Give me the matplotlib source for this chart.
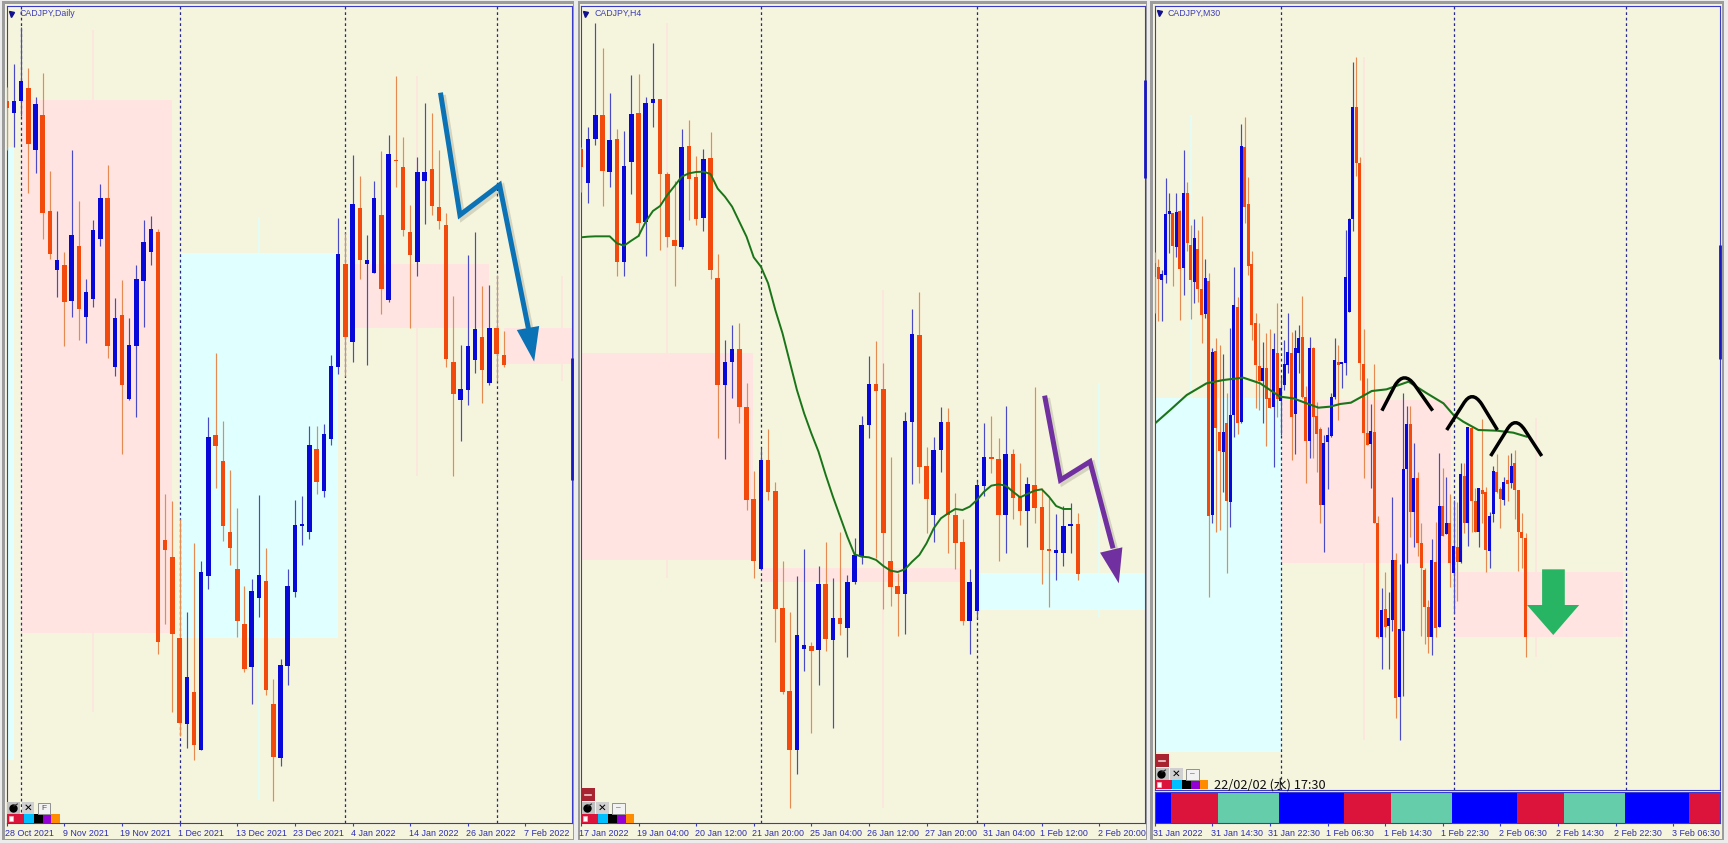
"""
Three CADJPY candlestick windows (Daily, H4, M30) side by side, trading platform look.
Price levels are chart units read from the picture, they grow downwards.
"""

import numpy as np
import matplotlib
matplotlib.use("Agg")
import matplotlib.pyplot as plt
import matplotlib.patheffects as pe
from matplotlib.patches import PathPatch, Rectangle
from matplotlib.path import Path
from matplotlib.transforms import ScaledTranslation

WIDTH, HEIGHT = 1728, 843

BEIGE = "#f5f4dc"
PINK = "#ffe4e1"
CYAN = "#e0ffff"
BODY_BLUE = "#0808d8"
BODY_ORANGE = "#f24a0c"
WICK_BLUE = "#4a4ac4"
WICK_ORANGE = "#e58a50"
FRAME_BLUE = "#3a3ac8"
TEXT_BLUE = "#2c2cb4"
MA_GREEN = "#1a751a"

# Daily window
daily_colors = "OBBOBOOBOB" "OBBBOBOBBB" "BOOOOBOBBO" "OOOOBBOOBB" "BBBOBBBOBO" "BBOBOOOBBO" "OOOBBBOBOO"
daily_high = [262, 192, 82, 205, 290, 220, 513, 634, 757, 449, 604, 838, 661, 553, 496, 893, 840, 953, 795, 661,
              648, 688, 1482, 1503, 1556, 1836, 1630, 1684, 1250, 1060, 1263, 1410, 1525, 1758, 1738, 1485, 1645,
              2038, 1976, 1706, 1500, 1488, 1278, 1278, 1272, 1066, 654, 700, 465, 528, 705, 543, 453, 405, 229,
              410, 616, 470, 310, 340, 451, 640, 888, 1034, 765, 695, 858, 855, 826, 993]
daily_top = [303, 303, 243, 265, 313, 346, 634, 780, 795, 705, 737, 875, 691, 594, 594, 953, 945, 1034, 837, 726,
             688, 697, 1620, 1670, 1914, 2032, 2076, 1717, 1312, 1304, 1382, 1595, 1706, 1871, 1774, 1725, 1744,
             2113, 1995, 1758, 1574, 1571, 1334, 1347, 1302, 1099, 762, 792, 613, 624, 780, 594, 645, 462, 481,
             500, 697, 516, 516, 507, 621, 675, 1085, 1166, 1037, 988, 1010, 985, 985, 1064]
daily_bottom = [325, 340, 302, 432, 450, 638, 762, 810, 906, 904, 928, 950, 898, 717, 1038, 1100, 1155, 1196, 1038,
                842, 755, 1926, 1649, 1902, 2170, 2172, 2235, 2250, 1727, 1338, 1578, 1643, 1864, 2008, 2000, 1794,
                2070, 2272, 2275, 1999, 1776, 1578, 1597, 1446, 1473, 1316, 1100, 1012, 1025, 780, 791, 818, 866,
                900, 484, 690, 764, 785, 543, 618, 664, 1076, 1182, 1200, 1171, 1079, 1109, 1150, 1063, 1095]
daily_low = [450, 442, 348, 578, 520, 716, 776, 890, 1038, 952, 1020, 1028, 922, 737, 1074, 1128, 1363, 1200, 1252,
             982, 794, 1962, 1872, 2135, 2208, 2243, 2280, 2250, 1768, 1463, 1622, 1694, 1910, 2015, 2111, 1850,
             2086, 2402, 2297, 2056, 1790, 1635, 1616, 1482, 1490, 1336, 1122, 1128, 1085, 836, 1096, 818, 942,
             905, 561, 707, 983, 829, 672, 645, 686, 1100, 1427, 1322, 1214, 1120, 1210, 1155, 1142, 1102]
daily_zone_start = [0, 2, 24, 48, 69]
daily_zone_end = [1, 22.9, 46, 67, 78.4]
daily_zone_top = [440, 300, 760, 792, 985]
daily_zone_bottom = [2280, 1900, 1914, 985, 1092]
daily_zone_colors = [CYAN, PINK, CYAN, PINK, PINK]
daily_zone_wick_bar = [12, 35, 57, 77]
daily_zone_wick_high = [90, 650, 228, 828]
daily_zone_wick_low = [2135, 2400, 1427, 1142]
daily_zone_wick_colors = [PINK, CYAN, PINK, PINK]
daily_sessions = [2, 24, 47, 68]
daily_labels = ["28 Oct 2021", "9 Nov 2021", "19 Nov 2021", "1 Dec 2021", "13 Dec 2021",
                "23 Dec 2021", "4 Jan 2022", "14 Jan 2022", "26 Jan 2022", "7 Feb 2022"]
daily_edge = [1074, 1440]
daily_arrow_bar = [60.2, 62.9, 68.4, 72.4]
daily_arrow_level = [278, 645, 555, 985]
daily_head_bar = [70.8, 73.9, 73.2]
daily_head_level = [990, 978, 1085]

# H4 window
h4_colors = "OBBOBOBBOB" "BOOOBOOBOO" "BBOOOBOOOO" "BBOBOBOBBB" "BOOOOBBOOB" "BOOOBBBOOB" "OOBOOOBBBO"
h4_high = [440, 380, 68, 145, 278, 387, 392, 226, 222, 290, 130, 297, 515, 543, 388, 360, 467, 448, 397, 762, 1020,
           975, 969, 1148, 1412, 1345, 1288, 1447, 1684, 1835, 1728, 1647, 1927, 1698, 1625, 1735, 1595, 1725, 1615,
           1247, 1068, 1023, 1088, 1372, 1720, 1236, 928, 875, 1340, 1310, 1220, 1223, 1480, 1557, 1707, 1442, 1268,
           1248, 1315, 1217, 1347, 1390, 1430, 1160, 1465, 1495, 1543, 1518, 1510, 1540]
h4_top = [447, 416, 346, 346, 419, 416, 497, 343, 340, 308, 297, 297, 521, 721, 440, 437, 531, 477, 475, 835, 1086,
          1048, 1048, 1220, 1498, 1380, 1380, 1474, 1825, 2074, 1904, 1936, 1938, 1752, 1752, 1855, 1855, 1747, 1665,
          1274, 1153, 1153, 1168, 1684, 1757, 1263, 1002, 1005, 1398, 1350, 1266, 1266, 1545, 1627, 1747, 1455, 1370,
          1372, 1377, 1361, 1361, 1488, 1452, 1455, 1522, 1647, 1651, 1577, 1572, 1572]
h4_bottom = [500, 550, 418, 512, 515, 785, 785, 486, 668, 665, 310, 523, 711, 739, 740, 536, 658, 655, 809, 1155,
             1155, 1087, 1222, 1500, 1684, 1706, 1475, 1827, 2076, 2250, 2250, 1946, 1953, 1951, 1918, 1921, 1872,
             1883, 1747, 1667, 1276, 1173, 1600, 1760, 1782, 1781, 1265, 1400, 1498, 1544, 1350, 1545, 1630, 1862,
             1862, 1832, 1457, 1378, 1545, 1545, 1493, 1533, 1533, 1525, 1650, 1654, 1658, 1660, 1578, 1722]
h4_low = [575, 610, 434, 617, 561, 829, 829, 583, 708, 767, 380, 750, 740, 858, 747, 660, 675, 693, 836, 1313, 1377,
          1193, 1270, 1530, 1735, 1706, 1500, 1927, 2082, 2423, 2323, 2013, 2199, 2055, 1953, 2183, 1905, 1970, 1751,
          1692, 1314, 1675, 1827, 1817, 1908, 1902, 1452, 1450, 1600, 1625, 1415, 1660, 1707, 1875, 1962, 1854, 1488,
          1418, 1682, 1660, 1557, 1575, 1641, 1568, 1751, 1822, 1741, 1698, 1660, 1741]
h4_ma = [712, 710, 709, 709, 709, 730, 737, 722, 708, 665, 633, 618, 585, 558, 530, 520, 516, 515, 522, 566, 590,
         620, 665, 710, 772, 800, 850, 930, 1000, 1085, 1170, 1240, 1300, 1355, 1425, 1490, 1550, 1610, 1663, 1670,
         1672, 1680, 1698, 1712, 1716, 1708, 1685, 1665, 1630, 1585, 1555, 1540, 1527, 1530, 1520, 1500, 1475, 1457,
         1453, 1457, 1475, 1492, 1482, 1472, 1468, 1490, 1518, 1527, 1527]
h4_zone_start = [0, 25, 55]
h4_zone_end = [23.9, 53, 78.3]
h4_zone_top = [1060, 1705, 1720]
h4_zone_bottom = [1680, 1747, 1830]
h4_zone_colors = [PINK, PINK, CYAN]
h4_zone_wick_bar = [12, 42, 72]
h4_zone_wick_high = [68, 870, 1150]
h4_zone_wick_low = [1735, 2423, 1850]
h4_zone_wick_colors = [PINK, PINK, CYAN]
h4_sessions = [25, 55]
h4_labels = ["17 Jan 2022", "19 Jan 04:00", "20 Jan 12:00", "21 Jan 20:00", "25 Jan 04:00",
             "26 Jan 12:00", "27 Jan 20:00", "31 Jan 04:00", "1 Feb 12:00", "2 Feb 20:00"]
h4_edge = [240, 535]
h4_arrow_bar = [64.4, 66.6, 70.7, 73.9]
h4_arrow_level = [1187, 1440, 1385, 1645]
h4_head_bar = [72.1, 75.2, 74.7]
h4_head_level = [1658, 1642, 1750]

# M30 window
m30_colors = ("OOBBBOBOBO" "OBOOBOBOOB" "OBBOBOOOOO" "BOOBOBBBOB" "BOOBOOOBBB"
              "BOBBBBOOOO" "BOOBOBBOBB" "BOBOOOOBOB" "OBOBOBOBOO" "BOOBBOOBOB" "OOOO")
m30_high = [757, 778, 810, 535, 578, 640, 578, 630, 449, 545, 675, 658, 690, 648, 778, 820, 1045, 1013, 1035, 1062,
            1180, 985, 800, 890, 372, 350, 530, 752, 940, 970, 1025, 1000, 988, 1000, 908, 1130, 1020, 940, 995, 990,
            975, 888, 1158, 1010, 1040, 1205, 1282, 1305, 1282, 1180, 1015, 1035, 1085, 690, 655, 185, 170, 472, 988,
            1135, 1212, 1093, 1548, 1765, 1715, 1775, 1490, 1660, 1693, 1178, 1218, 1218, 1330, 1417, 1568, 1705,
            1800, 1618, 1567, 1360, 1405, 1430, 1483, 1500, 1505, 1390, 1388, 1282, 1280, 1465, 1465, 1258, 1460,
            1535, 1398, 1363, 1460, 1430, 1365, 1358, 1350, 1470, 1540, 1598]
m30_top = [790, 802, 822, 642, 632, 640, 635, 632, 580, 580, 735, 715, 748, 868, 835, 843, 1055, 1053, 1295, 1297,
           1268, 1245, 915, 920, 437, 440, 612, 792, 968, 1098, 1105, 1105, 1195, 1048, 1060, 1163, 1092, 1055, 1058,
           1045, 1015, 1012, 1192, 1045, 1045, 1248, 1288, 1328, 1305, 1190, 1080, 1087, 1085, 830, 658, 322, 322,
           488, 1093, 1298, 1293, 1295, 1570, 1830, 1828, 1855, 1680, 1680, 1888, 1408, 1272, 1272, 1433, 1433, 1628,
           1710, 1820, 1680, 1685, 1517, 1518, 1570, 1570, 1638, 1640, 1423, 1428, 1282, 1285, 1502, 1465, 1470, 1477,
           1547, 1413, 1415, 1468, 1447, 1440, 1397, 1390, 1470, 1597, 1615]
m30_bottom = [830, 836, 840, 825, 642, 738, 740, 808, 803, 730, 840, 845, 868, 945, 942, 1547, 1545, 1285, 1353,
              1357, 1503, 1505, 1245, 1268, 1265, 620, 798, 975, 1095, 1142, 1142, 1198, 1223, 1220, 1198, 1202, 1155,
              1095, 1250, 1242, 1058, 1190, 1322, 1322, 1250, 1302, 1515, 1515, 1327, 1307, 1192, 1096, 1092, 1090,
              935, 658, 490, 1090, 1300, 1335, 1333, 1570, 1910, 1910, 1882, 1878, 1860, 2095, 2090, 1892, 1408, 1535,
              1535, 1628, 1705, 1820, 1912, 1912, 1885, 1880, 1607, 1602, 1690, 1720, 1687, 1687, 1568, 1568, 1502,
              1595, 1595, 1482, 1650, 1653, 1542, 1477, 1497, 1500, 1452, 1448, 1470, 1595, 1615, 1912]
m30_low = [938, 962, 963, 850, 758, 857, 772, 960, 885, 752, 958, 908, 905, 1028, 955, 1792, 1570, 1595, 1590, 1475,
           1718, 1582, 1310, 1303, 1270, 670, 825, 1020, 1225, 1230, 1270, 1338, 1225, 1400, 1250, 1305, 1170, 1120,
           1380, 1362, 1120, 1195, 1450, 1375, 1375, 1415, 1568, 1657, 1467, 1310, 1198, 1260, 1165, 1125, 935, 692,
           528, 1140, 1435, 1335, 1465, 1570, 1915, 2007, 1910, 2008, 1892, 2153, 2220, 2087, 1688, 1610, 1642, 1668,
           1908, 1932, 1958, 1965, 1910, 1880, 1607, 1602, 1762, 1838, 1802, 1690, 1600, 1638, 1597, 1595, 1642, 1570,
           1717, 1705, 1565, 1480, 1585, 1515, 1502, 1465, 1558, 1712, 1705, 1970]
m30_ma_bar = [0.1, 4.3, 8.9, 14.4, 19.1, 24.6, 29.3, 34.8, 38.5, 42.2, 45.5, 48.7, 51.5, 54.5, 57, 60.3, 64.4, 70.5,
              75.6, 80.2, 83, 85.7, 89.9, 95, 99.6, 103.3]
m30_ma = [1270, 1230, 1185, 1150, 1140, 1133, 1150, 1190, 1195, 1210, 1223, 1220, 1212, 1208, 1193, 1173, 1168, 1145,
          1180, 1210, 1245, 1265, 1290, 1292, 1298, 1310]
m30_zone_start = [0, 35.1, 83.2]
m30_zone_end = [35, 82.4, 130]
m30_zone_top = [1195, 1200, 1717]
m30_zone_bottom = [2255, 1690, 1910]
m30_zone_colors = [CYAN, PINK, PINK]
m30_zone_wick_bar = [10, 58, 106]
m30_zone_wick_high = [345, 170, 1255]
m30_zone_wick_low = [1195, 2220, 1970]
m30_zone_wick_colors = [CYAN, PINK, PINK]
m30_sessions = [35, 83, 131]
m30_labels = ["31 Jan 2022", "31 Jan 14:30", "31 Jan 22:30", "1 Feb 06:30", "1 Feb 14:30",
              "1 Feb 22:30", "2 Feb 06:30", "2 Feb 14:30", "2 Feb 22:30", "3 Feb 06:30"]
m30_edge = [735, 1077]
m30_stripe_edges = [0, 4.5, 17.5, 34.6, 52.6, 65.5, 82.5, 100.6, 113.6, 130.5, 148.5, 156.9]
m30_stripe_colors = ["#0000ff", "#dc143c", "#66cdaa", "#0000ff", "#dc143c", "#66cdaa",
                     "#0000ff", "#dc143c", "#66cdaa", "#0000ff", "#dc143c"]
# Hand drawn humps: start, left shoulder, apex control, right shoulder, end
hump1_bar = [63.1, 66.8, 69.3, 72.2, 77.2]
hump1_level = [1232, 1155, 1112, 1155, 1232]
hump2_bar = [81.1, 85.7, 88.1, 90.8, 95.2]
hump2_level = [1290, 1212, 1168, 1212, 1290]
hump3_bar = [93.3, 97.8, 100.1, 102.8, 107.5]
hump3_level = [1368, 1290, 1246, 1290, 1368]
green_arrow_bar = [107.6, 113.9, 113.9, 117.9, 110.7, 103.4, 107.6]
green_arrow_level = [1708, 1708, 1815, 1815, 1905, 1815, 1815]


def make_axes(fig, left, top, right, bottom):
    """Axes from pixel edges of the picture."""
    return fig.add_axes([left / WIDTH, 1 - bottom / HEIGHT, (right - left) / WIDTH, (bottom - top) / HEIGHT])


def style_axes(ax):
    ax.set_facecolor(BEIGE)
    for spine in ax.spines.values():
        spine.set_color(FRAME_BLUE)
        spine.set_linewidth(0.8)
    ax.set_yticks([])


def draw_zones(ax, start, end, top, bottom, colors, wick_bar, wick_high, wick_low, wick_colors):
    # Higher timeframe candle drawn behind the chart
    ax.vlines(wick_bar, wick_high, wick_low, colors=wick_colors, linewidth=1.1, zorder=1)
    ax.bar(start, np.array(bottom) - np.array(top), bottom=top, width=np.array(end) - np.array(start),
           align="edge", color=colors, linewidth=0, zorder=1)


def draw_candles(ax, colors, high, top, bottom, low, body_width, wick_width):
    bars = np.arange(len(high))
    is_up = np.array([c == "B" for c in colors])
    wick_colors = np.where(is_up, WICK_BLUE, WICK_ORANGE)
    body_colors = np.where(is_up, BODY_BLUE, BODY_ORANGE)
    ax.vlines(bars, high, low, colors=wick_colors, linewidth=wick_width, zorder=3)
    ax.bar(bars, np.array(bottom) - np.array(top), bottom=top, width=body_width,
           color=body_colors, linewidth=0, zorder=4)


def draw_sessions(ax, bars):
    ax.vlines(bars, *ax.get_ylim(), colors="#28288c", linewidth=0.9,
              linestyles=(0, (2.2, 2.2)), zorder=2)


def set_time_axis(fig, ax, step, labels):
    ax.set_xticks(np.arange(len(labels)) * step)
    ax.set_xticklabels(labels, ha="left", fontsize=6.4, color=TEXT_BLUE, family="Liberation Sans")
    ax.tick_params(axis="x", length=2.5, width=0.8, color=FRAME_BLUE, pad=1.5)
    # Labels start a touch left of their tick
    shift = ScaledTranslation(-1.5 / 100, 0, fig.dpi_scale_trans)
    for label in ax.get_xticklabels():
        label.set_transform(label.get_transform() + shift)


def draw_arrow(ax, bars, levels, head_bars, head_levels, color):
    shadow = [pe.SimpleLineShadow(offset=(1.8, -1.8), alpha=0.13, linewidth=4.2), pe.Normal()]
    ax.plot(bars, levels, color=color, linewidth=3.6, solid_joinstyle="miter",
            solid_capstyle="butt", zorder=6, path_effects=shadow)
    ax.fill(head_bars, head_levels, color=color, linewidth=0, zorder=6)


def draw_hump(ax, bars, levels):
    codes = [Path.MOVETO, Path.LINETO, Path.CURVE3, Path.CURVE3, Path.LINETO]
    path = Path(np.column_stack([bars, levels]), codes)
    ax.add_patch(PathPatch(path, facecolor="none", edgecolor="black", linewidth=2.5,
                           capstyle="butt", zorder=6))


def draw_edge_candle(ax, levels):
    ax.vlines(ax.get_xlim()[1], levels[0], levels[1], colors="#1818c0", linewidth=2.0,
              clip_on=False, zorder=7)


def draw_title(ax, text):
    ax.text(0.0235, 0.9905, text, transform=ax.transAxes, fontsize=6.3, color="#3c3cc0",
            family="Liberation Sans", va="center", ha="left", zorder=8)
    ax.plot([0.0075], [0.9905], marker="v", markersize=3.6, color="#101090",
            transform=ax.transAxes, zorder=8, clip_on=False)


def draw_widgets(chrome, left, row_top, button_text, with_red):
    """Small tool buttons and colour swatches at the lower left of a window."""
    swatches = ["#dc143c", "#dc143c", "#00bfff", "#000000", "#9400d3", "#ff8c00"]
    widths = [8.7, 8.7, 9.2, 9.2, 8.7, 8.7]
    x = left
    for color, w in zip(swatches, widths):
        chrome.add_patch(Rectangle((x, row_top + 12), w, 9, color=color, linewidth=0))
        x += w
    chrome.add_patch(Rectangle((left + 1.8, row_top + 14), 4.5, 4.5, facecolor="white",
                               edgecolor="#ffc0c0", linewidth=0.4))
    chrome.add_patch(Rectangle((left + 0.5, row_top), 13, 11.5, color="#c0c0c0", linewidth=0))
    chrome.plot([left + 6], [row_top + 6.3], marker="o", markersize=5, color="black")
    chrome.plot([left + 7, left + 10.5], [row_top + 4, row_top + 2], color="#303030", linewidth=0.8)
    chrome.add_patch(Rectangle((left + 15, row_top), 12.5, 11.5, color="#d0d0d0", linewidth=0))
    chrome.text(left + 21.3, row_top + 5.8, "\u2715", fontsize=7.5, color="black", ha="center",
                va="center", family="DejaVu Sans", fontweight="bold")
    chrome.add_patch(Rectangle((left + 31, row_top + 0.5), 12.5, 11, facecolor="#f2f2f2",
                               edgecolor="#909090", linewidth=0.7))
    chrome.text(left + 37.2, row_top + 6, button_text, fontsize=6, color="#505050", ha="center",
                va="center", family="Liberation Sans")
    if with_red:
        chrome.add_patch(Rectangle((left, row_top - 14), 13.5, 13, color="#a82430", linewidth=0))
        chrome.plot([left + 3.5, left + 10], [row_top - 7.5, row_top - 7.5], color="#f0d0d0", linewidth=1.2)


def main():
    fig = plt.figure(figsize=(WIDTH / 100, HEIGHT / 100), dpi=100, facecolor="#ececec")

    # Window chrome behind the charts
    back = fig.add_axes([0, 0, 1, 1], zorder=-1)
    back.set_xlim(0, WIDTH)
    back.set_ylim(HEIGHT, 0)
    back.axis("off")
    for left, right in [(2, 574), (577.5, 1147), (1150, 1723.5)]:
        back.add_patch(Rectangle((left, 1), right - left, 839, color="#9c9c9c", linewidth=0))
        back.add_patch(Rectangle((left + 2.5, 4), right - left - 4, 834.5, color=BEIGE, linewidth=0))

    # Daily
    ax = make_axes(fig, 6.7, 6, 571.6, 823.3)
    style_axes(ax)
    ax.set_xlim(0, 78.4)
    ax.set_ylim(2470, 18)
    draw_zones(ax, daily_zone_start, daily_zone_end, daily_zone_top, daily_zone_bottom, daily_zone_colors,
               daily_zone_wick_bar, daily_zone_wick_high, daily_zone_wick_low, daily_zone_wick_colors)
    draw_sessions(ax, daily_sessions)
    draw_candles(ax, daily_colors, daily_high, daily_top, daily_bottom, daily_low, 0.62, 0.85)
    draw_arrow(ax, daily_arrow_bar, daily_arrow_level, daily_head_bar, daily_head_level, "#0b72b5")
    draw_edge_candle(ax, daily_edge)
    set_time_axis(fig, ax, 8, daily_labels)
    draw_title(ax, "CADJPY,Daily")

    # H4
    ax = make_axes(fig, 580.9, 6, 1144.7, 823.3)
    style_axes(ax)
    ax.set_xlim(0, 78.3)
    ax.set_ylim(2470, 18)
    draw_zones(ax, h4_zone_start, h4_zone_end, h4_zone_top, h4_zone_bottom, h4_zone_colors,
               h4_zone_wick_bar, h4_zone_wick_high, h4_zone_wick_low, h4_zone_wick_colors)
    draw_sessions(ax, h4_sessions)
    draw_candles(ax, h4_colors, h4_high, h4_top, h4_bottom, h4_low, 0.62, 0.85)
    ax.plot(np.arange(len(h4_ma)), h4_ma, color=MA_GREEN, linewidth=1.4, zorder=5)
    draw_arrow(ax, h4_arrow_bar, h4_arrow_level, h4_head_bar, h4_head_level, "#7030a0")
    draw_edge_candle(ax, h4_edge)
    set_time_axis(fig, ax, 8, h4_labels)
    draw_title(ax, "CADJPY,H4")

    # M30 with the colour stripe below it
    ax = make_axes(fig, 1154.7, 6, 1719.6, 790)
    style_axes(ax)
    ax.set_xlim(0, 156.9)
    ax.set_ylim(2370, 18)
    draw_zones(ax, m30_zone_start, m30_zone_end, m30_zone_top, m30_zone_bottom, m30_zone_colors,
               m30_zone_wick_bar, m30_zone_wick_high, m30_zone_wick_low, m30_zone_wick_colors)
    draw_sessions(ax, m30_sessions)
    draw_candles(ax, m30_colors, m30_high, m30_top, m30_bottom, m30_low, 0.85, 0.85)
    ax.plot(m30_ma_bar, m30_ma, color=MA_GREEN, linewidth=1.5, zorder=5)
    for hump_bar, hump_level in [(hump1_bar, hump1_level), (hump2_bar, hump2_level), (hump3_bar, hump3_level)]:
        draw_hump(ax, hump_bar, hump_level)
    ax.fill(green_arrow_bar, green_arrow_level, color="#27b463", linewidth=0, zorder=6)
    draw_edge_candle(ax, m30_edge)
    ax.set_xticks([])
    draw_title(ax, "CADJPY,M30")

    stripe = make_axes(fig, 1154.7, 791.5, 1719.6, 823.3)
    style_axes(stripe)
    stripe.set_xlim(0, 156.9)
    stripe.set_ylim(1, 0)
    stripe.bar(m30_stripe_edges[:-1], 1, width=np.diff(m30_stripe_edges), align="edge",
               color=m30_stripe_colors, linewidth=0)
    set_time_axis(fig, stripe, 16, m30_labels)

    # Buttons and swatches sit on top of everything
    chrome = fig.add_axes([0, 0, 1, 1], zorder=10)
    chrome.set_xlim(0, WIDTH)
    chrome.set_ylim(HEIGHT, 0)
    chrome.axis("off")
    draw_widgets(chrome, 6.9, 802, "F", False)
    draw_widgets(chrome, 581, 802, "\u2013", True)
    draw_widgets(chrome, 1155, 768, "\u2013", True)
    chrome.text(1213.5, 784.3, "22/02/02 (水) 17:30", fontsize=9.2, color="#101010", va="center", ha="left",
                family=["Noto Sans CJK JP", "DejaVu Sans"])

    fig.savefig("out.png", dpi=100, facecolor=fig.get_facecolor())


if __name__ == "__main__":
    main()
